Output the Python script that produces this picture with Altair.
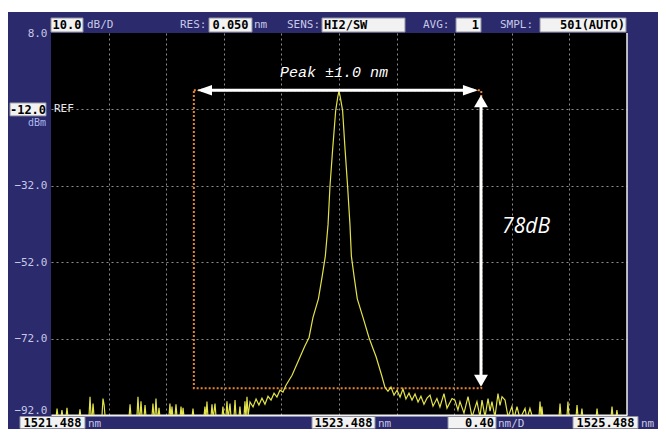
import altair as alt
import pandas as pd

# ---------------- data ----------------
trace_points = [
    (1521.488, -93.0), (1521.522, -93.0), (1521.530, -90.3), (1521.538, -93.0),
    (1521.556, -93.0), (1521.564, -90.7), (1521.572, -93.0),
    (1521.591, -93.0), (1521.599, -90.1), (1521.607, -93.0),
    (1521.681, -93.0), (1521.689, -90.5), (1521.697, -93.0),
    (1521.751, -93.0), (1521.759, -87.2), (1521.767, -93.0),
    (1521.772, -93.0), (1521.780, -89.0), (1521.788, -93.0),
    (1521.841, -93.0), (1521.849, -87.7), (1521.857, -89.4), (1521.865, -93.0),
    (1522.029, -93.0), (1522.037, -89.2), (1522.045, -93.0),
    (1522.084, -93.0), (1522.092, -87.2), (1522.100, -93.0),
    (1522.105, -93.0), (1522.113, -88.4), (1522.121, -93.0),
    (1522.133, -93.0), (1522.141, -89.4), (1522.149, -93.0),
    (1522.188, -93.0), (1522.196, -89.0), (1522.204, -93.0),
    (1522.209, -93.0), (1522.217, -87.7), (1522.225, -93.0),
    (1522.230, -93.0), (1522.238, -90.1), (1522.246, -93.0),
    (1522.306, -93.0), (1522.314, -89.0), (1522.321, -93.0), (1522.328, -89.8), (1522.336, -93.0),
    (1522.348, -93.0), (1522.356, -89.2), (1522.364, -93.0),
    (1522.383, -93.0), (1522.391, -89.8), (1522.398, -93.0), (1522.405, -90.1), (1522.413, -93.0),
    (1522.466, -93.0), (1522.474, -90.3), (1522.482, -93.0),
    (1522.549, -93.0), (1522.557, -89.8), (1522.564, -93.0), (1522.571, -88.5), (1522.579, -93.0),
    (1522.598, -93.0), (1522.606, -89.2), (1522.614, -93.0), (1522.627, -89.0), (1522.635, -93.0),
    (1522.674, -93.0), (1522.682, -89.8), (1522.690, -93.0),
    (1522.702, -93.0), (1522.710, -88.4), (1522.718, -93.0), (1522.731, -89.0), (1522.739, -93.0),
    (1522.758, -93.0), (1522.766, -88.1), (1522.774, -93.0),
    (1522.792, -93.0), (1522.800, -89.8), (1522.808, -93.0),
    (1522.827, -93.0), (1522.835, -88.4), (1522.842, -93.0), (1522.849, -87.2), (1522.857, -92.0),
    (1522.870, -88.6), (1522.891, -89.9), (1522.912, -87.8), (1522.932, -89.4), (1522.953, -87.6),
    (1522.974, -89.2), (1522.995, -87.1), (1523.016, -88.1), (1523.037, -86.3), (1523.057, -87.3),
    (1523.078, -85.5), (1523.099, -86.0), (1523.120, -84.2), (1523.141, -82.9), (1523.162, -81.6),
    (1523.190, -79.2), (1523.222, -76.4), (1523.250, -74.0), (1523.280, -71.7), (1523.307, -66.5),
    (1523.345, -61.6), (1523.372, -55.5), (1523.393, -50.4), (1523.412, -42.1), (1523.425, -32.3),
    (1523.444, -22.4), (1523.465, -12.3), (1523.480, -8.6), (1523.488, -7.2), (1523.496, -8.6),
    (1523.513, -12.3), (1523.530, -22.4), (1523.548, -32.3), (1523.564, -42.1), (1523.574, -50.4),
    (1523.592, -55.5), (1523.615, -61.6), (1523.655, -66.5), (1523.696, -71.7), (1523.720, -74.2),
    (1523.745, -76.7), (1523.784, -81.6), (1523.807, -84.7),
    (1523.828, -85.8), (1523.849, -84.7), (1523.870, -86.8), (1523.891, -85.5), (1523.912, -87.3),
    (1523.932, -85.2), (1523.953, -87.8), (1523.974, -86.3), (1523.995, -88.1), (1524.016, -86.5),
    (1524.037, -88.6), (1524.057, -87.1), (1524.078, -89.2), (1524.099, -87.6), (1524.120, -86.8),
    (1524.141, -89.7), (1524.168, -87.7), (1524.189, -89.9), (1524.217, -86.4), (1524.238, -90.2),
    (1524.273, -87.7), (1524.293, -88.1), (1524.314, -90.7), (1524.328, -88.5), (1524.356, -91.5),
    (1524.384, -87.2), (1524.412, -92.5), (1524.446, -88.5), (1524.467, -92.5), (1524.481, -88.1),
    (1524.502, -92.5), (1524.523, -87.7), (1524.537, -91.0), (1524.550, -88.5), (1524.571, -92.5),
    (1524.592, -86.4), (1524.606, -89.5), (1524.620, -87.2), (1524.641, -88.1), (1524.662, -92.5),
    (1524.689, -89.8), (1524.703, -93.0), (1524.724, -89.8), (1524.745, -93.0),
    (1524.780, -90.3), (1524.793, -93.0), (1524.814, -90.3), (1524.835, -93.0),
    (1524.876, -93.0), (1524.884, -88.5), (1524.892, -93.0), (1524.897, -89.8), (1524.905, -93.0),
    (1525.015, -93.0), (1525.023, -89.0), (1525.031, -93.0),
    (1525.070, -93.0), (1525.078, -88.5), (1525.086, -93.0),
    (1525.133, -93.0), (1525.141, -89.4), (1525.149, -93.0),
    (1525.167, -93.0), (1525.175, -90.3), (1525.183, -93.0),
    (1525.272, -93.0), (1525.280, -90.3), (1525.288, -93.0),
    (1525.376, -93.0), (1525.384, -89.8), (1525.392, -93.0),
    (1525.410, -93.0), (1525.418, -90.7), (1525.426, -93.0),
    (1525.488, -93.0),
]
wavelength_nm = [p[0] for p in trace_points]
power_dbm = [p[1] for p in trace_points]

X_MIN, X_MAX = 1521.488, 1525.488
Y_MIN, Y_MAX = -92.0, 8.0
x_grid = [1521.888, 1522.288, 1522.688, 1523.088, 1523.488, 1523.888, 1524.288, 1524.688, 1525.088]
y_grid = [8, -2, -12, -22, -32, -42, -52, -62, -72, -82, -92]

# measurement window (peak +/- 1.0 nm, 78 dB)
win_left, win_right = 1522.480, 1524.476
win_top, win_bottom = -7.0, -85.0
harrow_left, harrow_right, harrow_y = 1522.502, 1524.453, -7.0
varrow_x, varrow_top, varrow_bottom = 1524.474, -8.3, -84.6
note_peak = ("Peak ±1.0 nm", 1523.453, -2.1)
note_depth = ("78dB", 1524.787, -42.9)

# ---------------- styling / layout ----------------
NAVY = "#2a2a6c"
LAV = "#c8c8e6"
MONO = "DejaVu Sans Mono"
PW, PH = 576, 382          # plot area
PAD = {"left": 43, "top": 25, "right": 31, "bottom": 14}
HDR_Y = -8                 # header row centre (px, relative to plot top)
FTR_Y = PH + 7.5           # footer row centre
REF_Y = PH * 20 / 100      # pixel row of the -12 dBm reference level

xs = alt.Scale(domain=[X_MIN, X_MAX], nice=False, zero=False)
ys = alt.Scale(domain=[Y_MIN, Y_MAX], nice=False, zero=False)

x_axis = alt.Axis(values=x_grid, labels=False, ticks=False, title=None, grid=True,
                  gridColor="#8c8c8c", gridDash=[2, 3], gridWidth=1,
                  domain=True, domainColor="#f0f0f0", domainWidth=2)
y_axis = alt.Axis(values=y_grid, ticks=False, title=None, grid=True,
                  gridColor="#8c8c8c", gridDash=[2, 3], gridWidth=1,
                  gridOpacity={"condition": {"test": "datum.value == 8 || datum.value == -92", "value": 0}, "value": 1},
                  labelBaseline={"condition": {"test": "datum.value == -92", "value": "bottom"}, "value": "middle"},
                  domain=False, labelOverlap=False, labelPadding=4,
                  labelColor=LAV, labelFont=MONO, labelFontSize=11,
                  labelExpr="(datum.value == -12 || (datum.value < 8 && datum.value > -92 && (datum.value + 92) % 20 != 0)) ? '' : format(datum.value, '.1f')")

trace = pd.DataFrame({"nm": wavelength_nm, "dbm": power_dbm})

trace_line = alt.Chart(trace).mark_line(color="#e2e24a", strokeWidth=1.2, clip=True).encode(
    x=alt.X("nm:Q", scale=xs, axis=x_axis),
    y=alt.Y("dbm:Q", scale=ys, axis=y_axis),
)

window_rect = alt.Chart(alt.Data(values=[{"a": win_left, "b": win_right, "t": win_top, "u": win_bottom}])).mark_rect(
    fillOpacity=0, stroke="#e8842c", strokeWidth=2, strokeDash=[2, 2]
).encode(x=alt.X("a:Q", scale=xs), x2="b:Q", y=alt.Y("t:Q", scale=ys), y2="u:Q")

h_line = alt.Chart(alt.Data(values=[{"a": harrow_left + 0.03, "b": harrow_right - 0.03, "y": harrow_y}])).mark_rule(
    color="white", strokeWidth=3
).encode(x=alt.X("a:Q", scale=xs), x2="b:Q", y=alt.Y("y:Q", scale=ys))

v_line = alt.Chart(alt.Data(values=[{"x": varrow_x, "t": varrow_top - 2.0, "u": varrow_bottom + 2.0}])).mark_rule(
    color="white", strokeWidth=3
).encode(x=alt.X("x:Q", scale=xs), y=alt.Y("t:Q", scale=ys), y2="u:Q")

heads = alt.Chart(alt.Data(values=[
    {"x": harrow_left, "y": harrow_y, "s": "M0,0L1,-0.35L1,0.35Z", "z": 900},
    {"x": harrow_right, "y": harrow_y, "s": "M0,0L-1,-0.35L-1,0.35Z", "z": 900},
    {"x": varrow_x, "y": varrow_top, "s": "M0,0L-0.58,1L0.58,1Z", "z": 576},
    {"x": varrow_x, "y": varrow_bottom, "s": "M0,0L-0.58,-1L0.58,-1Z", "z": 576},
])).mark_point(filled=True, color="white", opacity=1, strokeWidth=0).encode(
    x=alt.X("x:Q", scale=xs), y=alt.Y("y:Q", scale=ys),
    shape=alt.Shape("s:N", scale=None, legend=None),
    size=alt.Size("z:Q", scale=None, legend=None),
)

peak_text = alt.Chart(alt.Data(values=[{"t": note_peak[0], "x": note_peak[1], "y": note_peak[2]}])).mark_text(
    color="white", font="Liberation Mono", fontStyle="italic", fontSize=15, align="center", baseline="middle"
).encode(x=alt.X("x:Q", scale=xs), y=alt.Y("y:Q", scale=ys), text="t:N")

depth_text = alt.Chart(alt.Data(values=[{"t": note_depth[0], "x": note_depth[1], "y": note_depth[2]}])).mark_text(
    color="white", font="Open Sans", fontStyle="italic", fontSize=21, align="center", baseline="middle"
).encode(x=alt.X("x:Q", scale=xs), y=alt.Y("y:Q", scale=ys), text="t:N")

# ---------------- instrument screen chrome (pixel positions relative to plot) ----------------
def px_enc():
    return dict(x=alt.X("x:Q", scale=None, axis=None), y=alt.Y("y:Q", scale=None, axis=None))

top_strip = alt.Chart(alt.Data(values=[{"x": -PAD["left"], "x2": PW + PAD["right"], "y": -PAD["top"], "y2": -PAD["top"] + 4}])).mark_rect(
    color="white").encode(x2="x2:Q", y2="y2:Q", **px_enc())

hb, ft = HDR_Y, FTR_Y
boxes = alt.Chart(alt.Data(values=[
    {"x": 0, "x2": 32, "y": hb - 7, "y2": hb + 7},
    {"x": 158, "x2": 201, "y": hb - 7, "y2": hb + 7},
    {"x": 271, "x2": 354, "y": hb - 7, "y2": hb + 7},
    {"x": 405, "x2": 430, "y": hb - 7, "y2": hb + 7},
    {"x": 489, "x2": 575, "y": hb - 7, "y2": hb + 7},
    {"x": -41, "x2": -5, "y": REF_Y - 6.5, "y2": REF_Y + 6.5},
    {"x": -31, "x2": 34, "y": ft - 6, "y2": ft + 6},
    {"x": 261, "x2": 324, "y": ft - 6, "y2": ft + 6},
    {"x": 397, "x2": 445, "y": ft - 6, "y2": ft + 6},
    {"x": 522, "x2": 587, "y": ft - 6, "y2": ft + 6},
])).mark_rect(color="#f2f2f2", stroke="#9090a0", strokeWidth=1).encode(x2="x2:Q", y2="y2:Q", **px_enc())

box_text_c = alt.Chart(alt.Data(values=[
    {"t": "10.0", "x": 16, "y": hb},
    {"t": "0.050", "x": 179.5, "y": hb},
    {"t": "-12.0", "x": -23, "y": REF_Y + 0.5},
    {"t": "1521.488", "x": 1.5, "y": ft + 0.5},
    {"t": "1523.488", "x": 292.5, "y": ft + 0.5},
    {"t": "1525.488", "x": 554.5, "y": ft + 0.5},
])).mark_text(color="black", font=MONO, fontSize=12, fontWeight="bold", align="center", baseline="middle").encode(
    text="t:N", **px_enc())

box_text_l = alt.Chart(alt.Data(values=[{"t": "HI2/SW", "x": 273, "y": hb}])).mark_text(
    color="black", font=MONO, fontSize=12, fontWeight="bold", align="left", baseline="middle").encode(text="t:N", **px_enc())

box_text_r = alt.Chart(alt.Data(values=[
    {"t": "1", "x": 428, "y": hb},
    {"t": "501(AUTO)", "x": 574, "y": hb},
    {"t": "0.40", "x": 443, "y": ft + 0.5},
])).mark_text(color="black", font=MONO, fontSize=12, fontWeight="bold", align="right", baseline="middle").encode(
    text="t:N", **px_enc())

labels_l = alt.Chart(alt.Data(values=[
    {"t": "dB/D", "x": 36, "y": hb, "c": LAV},
    {"t": "RES:", "x": 129, "y": hb, "c": LAV},
    {"t": "nm", "x": 203, "y": hb, "c": LAV},
    {"t": "SENS:", "x": 236, "y": hb, "c": LAV},
    {"t": "AVG:", "x": 372, "y": hb, "c": LAV},
    {"t": "SMPL:", "x": 449, "y": hb, "c": LAV},
    {"t": "REF", "x": 3, "y": REF_Y, "c": "#e8e8f0"},
    {"t": "nm", "x": 37, "y": ft + 1, "c": LAV},
    {"t": "nm", "x": 327, "y": ft + 1, "c": LAV},
    {"t": "nm/D", "x": 447, "y": ft + 1, "c": LAV},
    {"t": "nm", "x": 590, "y": ft + 1, "c": LAV},
])).mark_text(font=MONO, fontSize=11, align="left", baseline="middle").encode(
    text="t:N", color=alt.Color("c:N", scale=None, legend=None), **px_enc())

dbm_label = alt.Chart(alt.Data(values=[{"t": "dBm", "x": -5, "y": REF_Y + 14}])).mark_text(
    color="#aab8ee", font=MONO, fontSize=10, align="right", baseline="middle").encode(text="t:N", **px_enc())

right_edge = alt.Chart(alt.Data(values=[{"x": PW, "y": 0, "y2": PH}])).mark_rule(
    color="#f0f0f0", strokeWidth=1.5).encode(y2="y2:Q", **px_enc())

chart = alt.layer(
    top_strip, window_rect, trace_line, h_line, v_line, heads, peak_text, depth_text,
    boxes, box_text_c, box_text_l, box_text_r, labels_l, dbm_label, right_edge,
).properties(
    width=PW, height=PH,
    autosize=alt.AutoSizeParams(type="none"),
    padding=PAD,
    background=NAVY,
).configure_view(fill="#000000", strokeWidth=0)

chart.save("out.html", embed_options={"renderer": "svg", "actions": False})
